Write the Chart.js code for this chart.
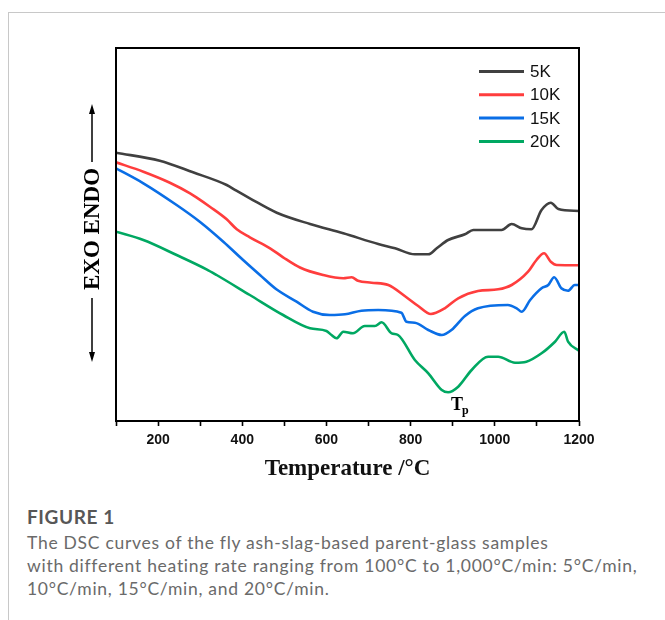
<!doctype html>
<html lang="en">
<head>
  <meta charset="utf-8">
  <title>DSC curves</title>
  <script src="https://cdn.jsdelivr.net/npm/chart.js@4.4.1/dist/chart.umd.min.js"></script>
  <style>
    body { margin: 0; background: #fff; width: 665px; height: 620px; overflow: hidden; position: relative; }
    .frame-top { position: absolute; left: 8px; top: 12px; width: 657px; height: 1px; background: #c8c8c8; }
    .frame-left { position: absolute; left: 8px; top: 12px; width: 1px; height: 608px; background: #c8c8c8; }
    .chart-box { position: absolute; left: 0; top: 0; width: 665px; height: 490px; }
    .fig-label { position: absolute; left: 27px; top: 505px; font: bold 19px Lato, "Open Sans", sans-serif; color: #575757; letter-spacing: 0.6px; }
    .caption { position: absolute; left: 27px; top: 531px; width: 636px; font: 17.5px/23px Lato, "Open Sans", sans-serif; color: #6a6a6a; letter-spacing: 0.72px; white-space: nowrap; }
  </style>
</head>
<body>
  <div class="frame-top"></div>
  <div class="frame-left"></div>
  <div class="chart-box"><canvas id="dsc"></canvas></div>
  <div class="fig-label">FIGURE 1</div>
  <div class="caption">The DSC curves of the fly ash-slag-based parent-glass samples<br>with different heating rate ranging from 100°C to 1,000°C/min: 5°C/min,<br>10°C/min, 15°C/min, and 20°C/min.</div>

  <script>
    // heat flow signal (arbitrary units, endo up) against temperature in °C
    const seriesNames = ['5K', '10K', '15K', '20K'];
    const seriesColors = ['#404040', '#ff3d3d', '#0a6ee6', '#00a862'];

    const temp5K = [100, 204, 283, 363, 386, 418, 482, 561, 640, 723, 763, 810, 842, 862, 889, 929, 949, 1016, 1040, 1064, 1087, 1111, 1133, 1151, 1200];
    const heat5K = [268.3, 260.3, 248.7, 236, 230.3, 222.7, 208.3, 197, 187.7, 177, 172.7, 166.7, 166.7, 172.7, 181, 186.7, 191, 191, 197, 192.7, 191.7, 211, 218.3, 212, 210];

    const temp10K = [100, 165, 228, 276, 291, 323, 363, 387, 418, 466, 497, 537, 592, 640, 660, 675, 707, 747, 786, 818, 848, 881, 913, 960, 1008, 1040, 1079, 1099, 1117, 1133, 1147, 1200];
    const heat10K = [258.7, 249.3, 238.3, 227.7, 223.7, 214.3, 201.7, 191.7, 183.7, 172.7, 163.7, 153.5, 146, 142.7, 143.7, 140.3, 138.3, 136, 125, 115, 107, 112.7, 122.7, 130, 131.7, 136, 149.3, 161, 167.7, 159.3, 156, 155.7];

    const temp15K = [100, 165, 244, 299, 355, 402, 442, 481, 529, 568, 608, 644, 683, 723, 778, 790, 810, 842, 874, 897, 929, 960, 1031, 1052, 1064, 1084, 1111, 1127, 1141, 1158, 1174, 1190, 1200];
    const heat15K = [252.7, 237.7, 216, 199.3, 179.3, 161, 146, 131.7, 119.3, 109.3, 106, 106.7, 110.3, 111, 108.3, 99.3, 98.3, 91, 86, 91, 105, 112.7, 116, 112.7, 109.3, 121, 132.7, 136, 143.7, 132.7, 130.3, 136, 136];

    const temp20K = [100, 165, 244, 315, 339, 418, 497, 561, 600, 612, 624, 640, 663, 691, 715, 731, 755, 770, 810, 842, 874, 889, 913, 945, 984, 1008, 1048, 1075, 1111, 1143, 1165, 1174, 1200];
    const heat20K = [189.3, 181, 166, 151.7, 146, 126, 106, 92.7, 90, 86, 82.7, 89.3, 87.7, 95, 95, 98.7, 87.7, 86, 61, 47.7, 31, 28.7, 34.3, 51, 64.3, 64.3, 58.3, 59.3, 67.7, 79.3, 89.3, 79.3, 70.3];

    const xTicksMin = 100, xTicksMax = 1200, xStep = 100;
    const peakTemp = 889; // crystallisation peak Tp of the 20K curve

    const temps = [temp5K, temp10K, temp15K, temp20K];
    const heats = [heat5K, heat10K, heat15K, heat20K];

    function toPoints(xs, ys) {
      return xs.map((x, i) => ({ x: x, y: ys[i] }));
    }

    const datasets = seriesNames.map((name, i) => ({
      label: name,
      data: toPoints(temps[i], heats[i]),
      borderColor: seriesColors[i],
      backgroundColor: seriesColors[i],
      borderWidth: 2.6,
      pointRadius: 0,
      fill: false,
      cubicInterpolationMode: 'monotone'
    }));

    // box, legend, side label and Tp marker
    const decorations = {
      id: 'decorations',
      afterDraw(chart) {
        const ctx = chart.ctx;
        const a = chart.chartArea;
        ctx.save();

        ctx.strokeStyle = '#000';
        ctx.lineWidth = 2;
        ctx.strokeRect(a.left, a.top, a.right - a.left, a.bottom - a.top);

        // legend in the top right corner
        ctx.font = '17px "Liberation Sans", Arial, sans-serif';
        ctx.textBaseline = 'middle';
        ctx.textAlign = 'left';
        chart.data.datasets.forEach((ds, i) => {
          const y = a.top + 23.5 + i * 23.3;
          ctx.strokeStyle = ds.borderColor;
          ctx.lineWidth = 3;
          ctx.beginPath();
          ctx.moveTo(a.right - 100, y);
          ctx.lineTo(a.right - 55, y);
          ctx.stroke();
          ctx.fillStyle = '#111';
          ctx.fillText(ds.label, a.right - 49, y + 1);
        });

        // EXO / ENDO label with arrows
        const cx = 92, cy = 229;
        ctx.fillStyle = '#000';
        ctx.strokeStyle = '#000';
        ctx.lineWidth = 1.5;
        ctx.save();
        ctx.translate(cx, cy);
        ctx.rotate(-Math.PI / 2);
        ctx.font = 'bold 23px "Liberation Serif", "Times New Roman", serif';
        ctx.textAlign = 'center';
        ctx.textBaseline = 'middle';
        ctx.fillText('EXO ENDO', 0, 1);
        ctx.restore();
        ctx.beginPath();
        ctx.moveTo(cx, 111); ctx.lineTo(cx, 162);
        ctx.moveTo(cx, 298); ctx.lineTo(cx, 355);
        ctx.stroke();
        ctx.beginPath();
        ctx.moveTo(cx, 104); ctx.lineTo(cx - 3, 114); ctx.lineTo(cx + 3, 114); ctx.closePath();
        ctx.moveTo(cx, 362); ctx.lineTo(cx - 3, 352); ctx.lineTo(cx + 3, 352); ctx.closePath();
        ctx.fill();

        // Tp under the 20K crystallisation dip
        const px = chart.scales.x.getPixelForValue(peakTemp);
        ctx.textAlign = 'left';
        ctx.textBaseline = 'alphabetic';
        ctx.font = 'bold 18px "Liberation Serif", "Times New Roman", serif';
        ctx.fillText('T', px + 3, 410);
        ctx.font = 'bold 12px "Liberation Serif", "Times New Roman", serif';
        ctx.fillText('p', px + 14, 414);

        ctx.restore();
      }
    };

    new Chart(document.getElementById('dsc'), {
      type: 'line',
      data: { datasets: datasets },
      options: {
        responsive: true,
        maintainAspectRatio: false,
        animation: false,
        layout: { padding: { left: 116, right: 86, top: 48, bottom: 0 } },
        plugins: { legend: { display: false }, tooltip: { enabled: false } },
        scales: {
          x: {
            type: 'linear',
            min: xTicksMin,
            max: xTicksMax,
            afterFit: (scale) => { scale.height = 69; },
            border: { display: false },
            grid: {
              drawOnChartArea: false,
              drawTicks: true,
              tickLength: 5,
              tickColor: '#000',
              tickWidth: 1.6
            },
            ticks: {
              stepSize: xStep,
              autoSkip: false,
              maxRotation: 0,
              padding: 6,
              color: '#111',
              font: { family: '"Liberation Sans", Arial, sans-serif', size: 14, weight: 'bold' },
              callback: (v) => (v % 200 === 0 ? v : '')
            },
            title: {
              display: true,
              text: 'Temperature /°C',
              color: '#111',
              padding: { top: 0, bottom: 7 },
              font: { family: '"Liberation Serif", "Times New Roman", serif', size: 23, weight: 'bold' }
            }
          },
          y: {
            display: false,
            min: 0,
            max: 373
          }
        }
      },
      plugins: [decorations]
    });
  </script>
</body>
</html>
